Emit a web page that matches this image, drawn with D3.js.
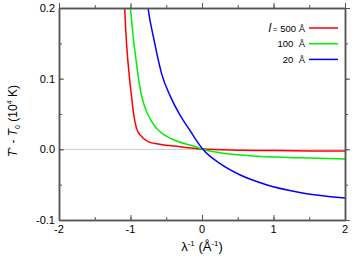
<html>
<head>
    <title>T - T0</title>
    <script src='https://d3js.org/d3.v7.min.js'></script>
    <style>
        body { margin: 0; background: white; }
        text { font-family: "Liberation Sans", Arial, sans-serif; fill: black; }
    </style>
</head>
<body>
<svg id="chart"></svg>
<script>
    // values
    var xTicks = [-2, -1, 0, 1, 2];
    var yTicks = [-0.1, 0.0, 0.1, 0.2];
    var seriesNames = ["500", "100", "20"];
    var seriesColors = ["#ff0000", "#00ee00", "#0000ff"];

    var red = [[-1.095, 0.24], [-1.081, 0.2], [-1.011, 0.098], [-0.987, 0.076], [-0.955, 0.049], [-0.917, 0.030],
        [-0.862, 0.020], [-0.755, 0.011], [-0.592, 0.0071], [-0.312, 0.0037], [0.01, 0.0003], [0.5, -0.0012],
        [1.0, -0.0018], [1.5, -0.0022], [2.0, -0.0025]];
    var green = [[-1.03, 0.24], [-1.001, 0.2], [-0.895, 0.105], [-0.848, 0.077], [-0.755, 0.049], [-0.638, 0.030],
        [-0.522, 0.020], [-0.336, 0.011], [-0.102, 0.0040], [0.01, 0.0], [0.248, -0.0048], [0.667, -0.009],
        [1.366, -0.012], [2.0, -0.0137]];
    var blue = [[-0.80, 0.24], [-0.755, 0.2], [-0.671, 0.155], [-0.559, 0.105], [-0.452, 0.077], [-0.312, 0.049],
        [-0.196, 0.031], [-0.126, 0.020], [0.012, 0.0], [0.248, -0.020], [0.527, -0.036], [0.90, -0.050],
        [1.366, -0.061], [2.0, -0.069]];
    var series = [red, green, blue];

    var W = 353, H = 261;
    var pLeft = 59, pRight = 345, pTop = 8, pBottom = 220;

    var svg = d3.select("#chart").attr("width", W).attr("height", H);
    var x = d3.scaleLinear().domain([-2, 2]).range([pLeft, pRight]);
    var y = d3.scaleLinear().domain([-0.1, 0.2]).range([pBottom, pTop]);

    svg.append("clipPath").attr("id", "clip").append("rect")
        .attr("x", pLeft).attr("y", pTop).attr("width", pRight - pLeft).attr("height", pBottom - pTop);

    // zero line
    svg.append("line").attr("x1", pLeft).attr("x2", pRight).attr("y1", y(0)).attr("y2", y(0))
        .attr("stroke", "#c8c8c8").attr("stroke-width", 1);

    var line = d3.line().x(function (d) { return x(d[0]); }).y(function (d) { return y(d[1]); })
        .curve(d3.curveMonotoneX);
    svg.append("g").attr("clip-path", "url(#clip)")
        .selectAll("path").data(series).enter().append("path")
        .attr("d", line).attr("fill", "none")
        .attr("stroke", function (d, i) { return seriesColors[i]; })
        .attr("stroke-width", 1.5);

    // axes with inward ticks on all four sides
    var axisColor = "#555";
    var xMinor = d3.range(-2, 2.01, 0.5);
    var yMinor = d3.range(-0.1, 0.201, 0.05);
    function frame(g, axis) {
        g.call(axis);
        g.select(".domain").attr("stroke", axisColor).attr("stroke-width", 1.5);
        g.selectAll(".tick line").attr("stroke", axisColor);
        g.selectAll("text").remove();
    }
    [["b", d3.axisBottom, pBottom], ["t", d3.axisTop, pTop]].forEach(function (a) {
        var sign = a[0] == "b" ? 1 : -1;
        svg.append("g").attr("transform", "translate(0," + a[2] + ")")
            .call(frame, a[1](x).tickValues(xMinor).tickSize(-3 * sign).tickSizeOuter(0));
        svg.append("g").attr("transform", "translate(0," + a[2] + ")")
            .call(frame, a[1](x).tickValues(xTicks).tickSize(-5 * sign).tickSizeOuter(0));
    });
    [["l", d3.axisLeft, pLeft], ["r", d3.axisRight, pRight]].forEach(function (a) {
        var sign = a[0] == "l" ? 1 : -1;
        svg.append("g").attr("transform", "translate(" + a[2] + ",0)")
            .call(frame, a[1](y).tickValues(yMinor).tickSize(-3 * sign).tickSizeOuter(0));
        svg.append("g").attr("transform", "translate(" + a[2] + ",0)")
            .call(frame, a[1](y).tickValues(yTicks).tickSize(-5 * sign).tickSizeOuter(0));
    });

    // tick labels
    svg.selectAll(".xl").data(xTicks).enter().append("text")
        .attr("x", function (d) { return x(d); }).attr("y", 233)
        .attr("text-anchor", "middle").attr("font-size", 11)
        .text(function (d) { return d; });
    svg.selectAll(".yl").data(yTicks).enter().append("text")
        .attr("x", 55).attr("y", function (d) { return y(d) + 4; })
        .attr("text-anchor", "end").attr("font-size", 11)
        .text(function (d) { return d.toFixed(1); });

    // x title
    var xt = svg.append("text").attr("x", 202).attr("y", 251).attr("text-anchor", "middle").attr("font-size", 13);
    xt.append("tspan").text("λ");
    xt.append("tspan").attr("dy", -5).attr("font-size", 8).text("-1");
    xt.append("tspan").attr("dy", 5).text(" (Å");
    xt.append("tspan").attr("dy", -5).attr("font-size", 8).text("-1");
    xt.append("tspan").attr("dy", 5).text(")");

    // y title
    var yt = svg.append("text").attr("transform", "translate(17,157) rotate(-90)")
        .attr("text-anchor", "start").attr("font-size", 12);
    yt.append("tspan").attr("font-style", "italic").text("T");
    yt.append("tspan").attr("dy", -4).attr("font-size", 7).text("*");
    yt.append("tspan").attr("dy", 4).text(" - ");
    yt.append("tspan").attr("font-style", "italic").text("T");
    yt.append("tspan").attr("dy", 3).attr("font-size", 7).text("0");
    yt.append("tspan").attr("dy", -3).text(" (10");
    yt.append("tspan").attr("dy", -5).attr("font-size", 7).text("4");
    yt.append("tspan").attr("dy", 5).text(" K)");

    // legend
    var leg = svg.append("g").selectAll("g").data(seriesNames).enter().append("g")
        .attr("transform", function (d, i) { return "translate(0," + (28 + i * 15.7) + ")"; });
    leg.append("line").attr("x1", 309).attr("x2", 338).attr("y1", 0).attr("y2", 0)
        .attr("stroke", function (d, i) { return seriesColors[i]; }).attr("stroke-width", 1.5);
    var lt = leg.append("text").attr("x", 305).attr("y", 3.5).attr("text-anchor", "end").attr("font-size", 9.5);
    lt.each(function (d, i) {
        var t = d3.select(this);
        if (i == 0) {
            t.append("tspan").attr("font-style", "italic").attr("font-size", 12).text("l");
            t.append("tspan").attr("font-size", 8).text("\u2009=");
            t.append("tspan").text(" " + d + " Å");
        } else {
            t.append("tspan").text(d + "\u00a0\u00a0Å");
        }
    });
</script>
</body>
</html>
